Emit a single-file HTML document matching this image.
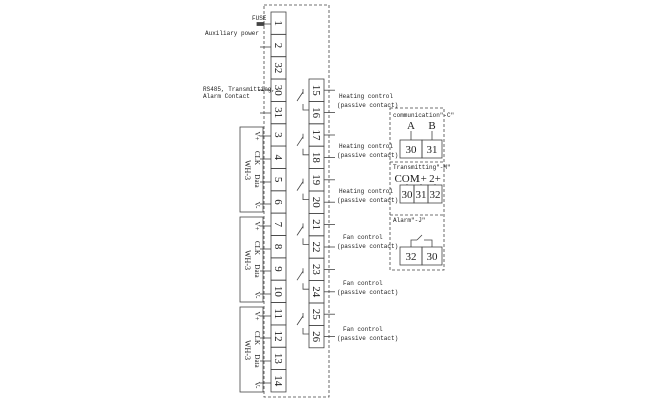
<!DOCTYPE html>
<html><head><style>
html,body{margin:0;padding:0;background:#fff;}
svg{display:block;}
.n{font-family:"Liberation Serif",serif;font-size:11px;fill:#222;}
.w{font-family:"Liberation Serif",serif;font-size:8px;fill:#222;}
.v{font-family:"Liberation Serif",serif;font-size:7px;fill:#222;}
.s{font-family:"Liberation Mono",monospace;font-size:6px;fill:#222;}
</style></head><body>
<svg width="657" height="400" viewBox="0 0 657 400" xmlns="http://www.w3.org/2000/svg">
<g stroke="#444" fill="none" stroke-width="0.8">
<rect x="264" y="5" width="65" height="392" stroke-dasharray="3,2"/>
<rect x="390" y="108" width="54" height="162" stroke-dasharray="3,2"/>
<line x1="390" y1="162" x2="444" y2="162" stroke-dasharray="3,2"/>
<line x1="390" y1="215" x2="444" y2="215" stroke-dasharray="3,2"/>
<rect x="240" y="127" width="23" height="85"/>
<rect x="240" y="217" width="23" height="85"/>
<rect x="240" y="307" width="23" height="85"/>
</g>
<g id="L" stroke="#444" fill="none" stroke-width="0.8"></g>
<script>
var s="http://www.w3.org/2000/svg",svg=document.querySelector('svg'),g=document.getElementById('L');
function el(t,a,txt,p){var e=document.createElementNS(s,t);for(var k in a)e.setAttribute(k,a[k]);if(txt)e.textContent=txt;(p||svg).appendChild(e);return e;}
var left=["1","2","32","30","31","3","4","5","6","7","8","9","10","11","12","13","14"],h=22.35;
left.forEach(function(t,i){var y=12+i*h;el('rect',{x:271,y:y,width:15,height:h},0,g);
el('text',{class:'n',x:0,y:0,transform:'translate(275,'+(y+h/2)+') rotate(90)','text-anchor':'middle'},t);});
for(var i=0;i<12;i++){var y=79+i*22.4;el('rect',{x:309,y:y,width:15,height:22.4},0,g);
el('text',{class:'n',x:0,y:0,transform:'translate(313,'+(y+11.2)+') rotate(90)','text-anchor':'middle'},""+(15+i));
el('line',{x1:324,y1:y+11.2,x2:335,y2:y+11.2},0,g);}
for(var p=0;p<6;p++){var y=79+p*44.8;
el('polyline',{points:'303,'+(y+10)+' 303,'+(y+15)},0,g);
el('line',{x1:303,y1:y+13,x2:297,y2:y+22},0,g);
el('polyline',{points:'303,'+(y+25)+' 303,'+(y+31)+' 309,'+(y+31)},0,g);}
[47,113,136,159,182,204,226,249,271,294,316,338,361,383].forEach(function(y){el('line',{x1:260,y1:y,x2:271,y2:y},0,g);});
el('line',{x1:258,y1:90,x2:271,y2:90},0,g);
el('line',{x1:262,y1:24,x2:271,y2:24},0,g);
el('rect',{x:257,y:22.5,width:7,height:3,fill:'#444'},0,g);
el('text',{class:'s',x:252,y:20},"FUSE");
[127,217,307].forEach(function(b){
el('text',{class:'w',x:0,y:0,transform:'translate(245,'+(b+43)+') rotate(90)','text-anchor':'middle'},"WH-3");
[["V+",9],["CLK",31],["Data",54],["V-",78]].forEach(function(a){el('text',{class:'v',x:0,y:0,transform:'translate(255,'+(b+a[1])+') rotate(90)','text-anchor':'middle'},a[0]);});
});
el('text',{class:'s',x:205,y:35},"Auxiliary power");
el('text',{class:'s',x:203,y:91},"RS485, Transmitting,");
el('text',{class:'s',x:203,y:98},"Alarm Contact");
var lab=[["Heating control",98],["Heating control",148],["Heating control",193],["Fan control",239],["Fan control",285],["Fan control",331]];
lab.forEach(function(l){el('text',{class:'s',x:(l[0][0]=='H'?339:343),y:l[1]},l[0]);el('text',{class:'s',x:337,y:l[1]+9},"(passive contact)");});
el('text',{class:'s',x:393,y:117},'communication"-C"');
el('text',{class:'s',x:393,y:169},'Transmitting"-M"');
el('text',{class:'s',x:393,y:222},'Alarm"-J"');
el('rect',{x:400,y:140,width:22,height:18},0,g);el('rect',{x:422,y:140,width:20,height:18},0,g);
el('text',{class:'n',x:411,y:153,'text-anchor':'middle'},"30");el('text',{class:'n',x:432,y:153,'text-anchor':'middle'},"31");
el('text',{class:'n',x:411,y:129,'text-anchor':'middle'},"A");el('text',{class:'n',x:432,y:129,'text-anchor':'middle'},"B");
el('line',{x1:411,y1:131,x2:411,y2:140},0,g);el('line',{x1:432,y1:131,x2:432,y2:140},0,g);
[[400,"30","COM"],[414,"31","1+"],[428,"32","2+"]].forEach(function(a){el('rect',{x:a[0],y:185,width:14,height:18},0,g);
el('text',{class:'n',x:a[0]+7,y:198,'text-anchor':'middle'},a[1]);el('text',{class:'n',x:a[0]+7,y:182,'text-anchor':'middle'},a[2]);
el('line',{x1:a[0]+7,y1:184,x2:a[0]+7,y2:185},0,g);});
el('rect',{x:400,y:247,width:22,height:18},0,g);el('rect',{x:422,y:247,width:20,height:18},0,g);
el('text',{class:'n',x:411,y:260,'text-anchor':'middle'},"32");el('text',{class:'n',x:432,y:260,'text-anchor':'middle'},"30");
el('polyline',{points:'411,247 411,240 417,240'},0,g);el('line',{x1:417,y1:240,x2:422,y2:235},0,g);
el('polyline',{points:'432,247 432,240 424,240'},0,g);
</script>
</svg>
</body></html>
